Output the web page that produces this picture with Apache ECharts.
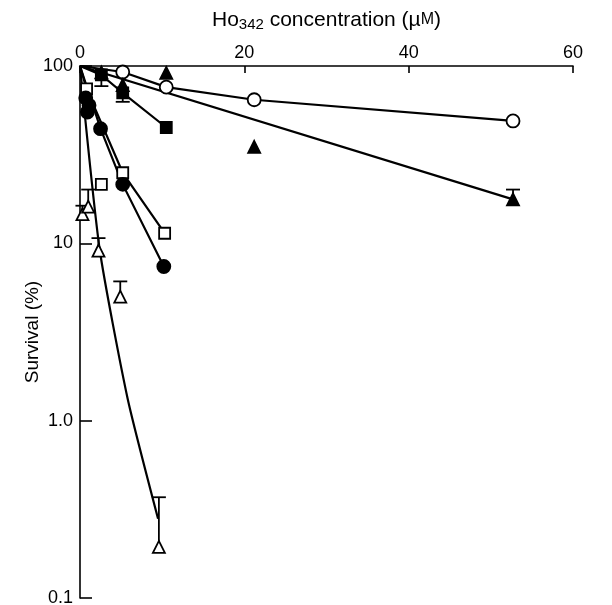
<!DOCTYPE html>
<html>
<head>
<meta charset="utf-8">
<script src="https://cdn.jsdelivr.net/npm/echarts@6/dist/echarts.min.js"></script>
<style>
  html, body { margin: 0; padding: 0; background: #fff; }
  #chart { width: 612px; height: 605px; }
</style>
</head>
<body>
<div id="chart"></div>
<script>
// points: [concentration uM, survival %]
const openCircles = [[5.2, 92.5], [10.5, 76], [21.2, 64.5], [52.7, 49]];
const filledTriangles = [[2.6, 92], [5.2, 78], [10.5, 91.4], [21.2, 35], [52.7, 17.7]];
const filledSquares = [[2.6, 89], [5.2, 70.5], [10.5, 45]];
const openSquares = [[0.8, 74.3], [2.6, 21.5], [5.2, 25], [10.3, 11.4]];
const filledCircles = [[0.7, 66], [0.9, 55], [1.1, 60], [2.5, 44.3], [5.2, 21.5], [10.2, 7.4]];
const openTriangles = [[0.3, 14.6], [1.0, 16.1], [2.25, 9.1], [4.9, 5.0], [9.6, 0.194]];

// fitted curves
const openCircleLine = [[0, 100], [5.2, 92.5], [10.5, 76], [21.2, 64.5], [52.7, 49]];
const filledTriangleLine = [[0, 100], [52.7, 17.7]];
const filledSquareLine = [[0, 100], [2.6, 89], [5.2, 70.5], [10.5, 45]];
const openSquareLine = [[0, 100], [0.8, 74.3], [5.2, 25], [10.3, 11.4]];
const filledCircleLine = [[0, 100], [2.5, 44.3], [5.2, 21.5], [10.2, 7.4]];
const openTriangleLine = [[0, 100], [2.4, 9.2], [5.8, 1.33], [9.5, 0.28]];

// error bars: [x, value, cap end]
const errorBars = [
  [2.6, 89, 77], [5.2, 70.5, 62.8], [52.7, 17.7, 20.1],
  [0.3, 14.6, 16.3], [1.0, 16.1, 20.1], [2.25, 9.1, 10.7], [4.9, 5.0, 6.1], [9.6, 0.194, 0.37]
];

const yLabels = { '100': '100', '10': '10', '1': '1.0', '0.1': '0.1' };

const font = '"Liberation Sans", Arial, sans-serif';

function lineSeries(data, smooth) {
  return {
    type: 'line', data: data, showSymbol: false, silent: true, z: 2, smooth: smooth || false,
    lineStyle: { color: '#000', width: 2.2 }
  };
}

function markerSeries(data, symbol, filled, size) {
  return {
    type: 'scatter', data: data, symbol: symbol, symbolSize: size, z: 5,
    itemStyle: { color: filled ? '#000' : '#fff', borderColor: '#000', borderWidth: 1.8, opacity: 1 }
  };
}

const option = {
  animation: false,
  backgroundColor: '#fff',
  grid: { left: 80, top: 66, right: 39, bottom: 7, outerBoundsMode: 'none' },
  xAxis: {
    type: 'value', position: 'top', min: 0, max: 60, interval: 20,
    name: 'Ho{sub|342} concentration (µ{sc|M})',
    nameLocation: 'middle', nameGap: 34,
    nameTextStyle: {
      fontFamily: font, fontSize: 21, color: '#000',
      rich: {
        sub: { fontFamily: font, fontSize: 15, color: '#000', verticalAlign: 'bottom', padding: [9, 0, 0, 0] },
        sc: { fontFamily: font, fontSize: 16, color: '#000' }
      }
    },
    axisLine: { show: true, lineStyle: { color: '#000', width: 1.6 } },
    axisTick: { show: true, inside: true, length: 7, lineStyle: { color: '#000', width: 1.6 } },
    axisLabel: { color: '#000', fontFamily: font, fontSize: 18, margin: 4 },
    splitLine: { show: false }
  },
  yAxis: {
    type: 'log', logBase: 10, min: 0.1, max: 100,
    name: 'Survival (%)', nameLocation: 'middle', nameGap: 38, nameRotate: 90,
    nameMoveOverlap: false,
    nameTextStyle: { fontFamily: font, fontSize: 19, color: '#000' },
    axisLine: { show: true, lineStyle: { color: '#000', width: 1.6 } },
    axisTick: { show: true, inside: true, length: 12, lineStyle: { color: '#000', width: 1.6 } },
    axisLabel: {
      color: '#000', fontFamily: font, fontSize: 18, margin: 7,
      formatter: v => yLabels[String(+v.toPrecision(3))] || ''
    },
    minorTick: { show: false },
    splitLine: { show: false }
  },
  series: [
    lineSeries(openCircleLine),
    lineSeries(filledTriangleLine),
    lineSeries(filledSquareLine),
    lineSeries(openSquareLine),
    lineSeries(filledCircleLine),
    lineSeries(openTriangleLine, 0.2),
    {
      type: 'custom', z: 3, silent: true,
      data: errorBars,
      renderItem: function (params, api) {
        const p0 = api.coord([api.value(0), api.value(1)]);
        const p1 = api.coord([api.value(0), api.value(2)]);
        const hw = 7;
        return {
          type: 'group',
          children: [
            { type: 'line', shape: { x1: p0[0], y1: p0[1], x2: p1[0], y2: p1[1] }, style: { stroke: '#000', lineWidth: 1.8 } },
            { type: 'line', shape: { x1: p1[0] - hw, y1: p1[1], x2: p1[0] + hw, y2: p1[1] }, style: { stroke: '#000', lineWidth: 1.8 } }
          ]
        };
      }
    },
    markerSeries(openCircles, 'circle', false, 13),
    markerSeries(filledTriangles, 'triangle', true, 12),
    markerSeries(filledSquares, 'rect', true, 11),
    markerSeries(openSquares, 'rect', false, 11),
    markerSeries(filledCircles, 'circle', true, 13),
    markerSeries(openTriangles, 'triangle', false, 12)
  ]
};

const myChart = echarts.init(document.getElementById('chart'));
myChart.setOption(option);
</script>
</body>
</html>
